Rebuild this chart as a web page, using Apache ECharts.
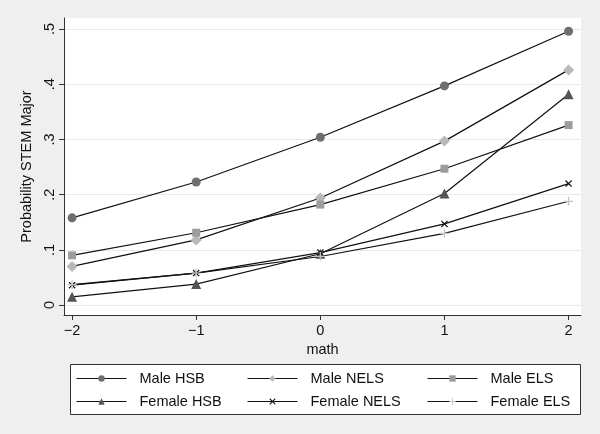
<!DOCTYPE html>
<html>
<head>
<meta charset="utf-8">
<script src="https://cdn.jsdelivr.net/npm/echarts@6/dist/echarts.min.js"></script>
<style>html,body{margin:0;padding:0;background:#efefef;}#c{width:600px;height:434px;}</style>
</head>
<body>
<div id="c"></div>
<script>
var mathX = [-2, -1, 0, 1, 2];
var xTicks = [-2, -1, 0, 1, 2];
var yTicks = [0, 0.1, 0.2, 0.3, 0.4, 0.5];
var maleHSB = [0.158, 0.223, 0.304, 0.397, 0.496];
var maleNELS = [0.070, 0.118, 0.194, 0.297, 0.426];
var maleELS = [0.090, 0.131, 0.182, 0.247, 0.326];
var femaleHSB = [0.015, 0.038, 0.093, 0.202, 0.382];
var femaleNELS = [0.036, 0.058, 0.095, 0.147, 0.220];
var femaleELS = [0.037, 0.058, 0.088, 0.130, 0.188];

var FONT = 'Liberation Sans';
var xSym = 'path://M0,1.2L1.2,0L5,3.8L8.8,0L10,1.2L6.2,5L10,8.8L8.8,10L5,6.2L1.2,10L0,8.8L3.8,5Z';
var plusSym = 'path://M4.3,0H5.7V4.3H10V5.7H5.7V10H4.3V5.7H0V4.3H4.3Z';

function pairs(vals) { return mathX.map(function (x, i) { return [x, vals[i]]; }); }
function mk(name, vals, symbol, size, color) {
  return {
    name: name, type: 'line', data: pairs(vals), symbol: symbol, symbolSize: size,
    showAllSymbol: true,
    lineStyle: { color: '#111', width: 1.2 },
    itemStyle: { color: color },
    emphasis: { disabled: true },
    animation: false
  };
}

var chart = echarts.init(document.getElementById('c'), null, { renderer: 'canvas' });
var legendCommon = {
  orient: 'vertical', itemWidth: 50, itemHeight: 8, itemGap: 8, padding: 0,
  textStyle: { fontFamily: FONT, fontSize: 14.5, color: '#111', padding: [0, 0, 0, 8] },
  lineStyle: { width: 1 },
  selectedMode: false
};
chart.setOption({
  backgroundColor: '#efefef',
  animation: false,
  textStyle: { fontFamily: FONT },
  graphic: [{
    type: 'rect', z: -1, shape: { x: 70.5, y: 364.5, width: 510, height: 50 },
    style: { fill: '#fff', stroke: '#333', lineWidth: 1 }
  }],
  legend: [
    Object.assign({ data: ['Male HSB', 'Female HSB'], left: 76, top: 371 }, legendCommon),
    Object.assign({ data: ['Male NELS', 'Female NELS'], left: 247, top: 371 }, legendCommon),
    Object.assign({ data: ['Male ELS', 'Female ELS'], left: 427, top: 371 }, legendCommon)
  ],
  grid: {
    left: 64, right: 19, top: 18, bottom: 119, show: true,
    backgroundColor: '#fff', borderWidth: 0
  },
  xAxis: {
    type: 'value', min: -2.065, max: 2.1,
    name: 'math', nameLocation: 'middle', nameGap: 27,
    nameTextStyle: { fontFamily: FONT, fontSize: 14.5, color: '#111' },
    axisLine: { show: true, onZero: false, lineStyle: { color: '#333', width: 1 } },
    axisTick: { show: true, length: 5, customValues: xTicks, lineStyle: { color: '#333' } },
    axisLabel: { customValues: xTicks, margin: 8, fontFamily: FONT, fontSize: 14.5, color: '#111',
      formatter: function (v) { return v < 0 ? '\u2212' + Math.abs(v) : String(v); } },
    splitLine: { show: false }
  },
  yAxis: {
    type: 'value', min: -0.018, max: 0.52,
    name: 'Probability STEM Major', nameLocation: 'middle', nameGap: 20,
    nameTextStyle: { fontFamily: FONT, fontSize: 14.5, color: '#111' },
    axisLine: { show: true, onZero: false, lineStyle: { color: '#333', width: 1 } },
    axisTick: { show: true, length: 5, customValues: yTicks, lineStyle: { color: '#333' } },
    axisLabel: { customValues: yTicks, rotate: 90, margin: 7, fontFamily: FONT, fontSize: 14.5, color: '#111',
      formatter: function (v) { return v === 0 ? '0' : String(Math.round(v * 10) / 10).replace(/^0/, ''); } },
    splitLine: { show: true, lineStyle: { color: '#e8e8e8', width: 1 } }
  },
  series: [
    mk('Male HSB', maleHSB, 'circle', 9, '#6e6e6e'),
    mk('Male NELS', maleNELS, 'diamond', 11, '#b8b8b8'),
    mk('Male ELS', maleELS, 'rect', 8, '#9c9c9c'),
    mk('Female HSB', femaleHSB, 'triangle', 10, '#555555'),
    mk('Female NELS', femaleNELS, xSym, 7, '#111111'),
    mk('Female ELS', femaleELS, plusSym, 9, '#c4c4c4')
  ]
});
</script>
</body>
</html>
